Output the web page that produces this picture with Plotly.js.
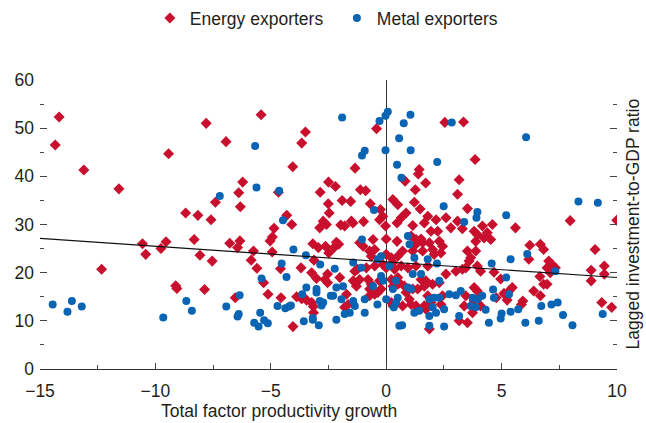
<!DOCTYPE html>
<html>
<head>
<meta charset="utf-8">
<script src="https://cdn.plot.ly/plotly-3.0.1.min.js"></script>
<style>
  html, body { margin: 0; padding: 0; background: #fff; }
  #chart { width: 646px; height: 423px; }
</style>
</head>
<body>
<div id="chart"></div>
<script>
// Energy exporters: TFP growth (x) vs lagged investment-to-GDP ratio (y)
const energyX = [
  -14.17, -14.34, -13.1, -11.58, -9.43, -7.8, -8.69, -8.16, -7.59, -7.4,
  -12.33, -10.56, -10.42, -9.76, -9.54, -9.12, -9.07, -8.32, -8.07, -7.87, -7.54,
  -5.42, -6.94, -3.5, -3.66, -4.05, -6.22, -6.39, -6.32, -4.67, -2.86, -2.5, -4.31, -4.09, -4.86,
  -2.51, -2.47, -2.73, -2.59, -2.88,
  -4.93, -5.03, -6.34, -6.78, -6.44, -5.75, -5.85, -4.94, -4.58, -5.6, -5.31, -5.12, -6.54, -4.56,
  -4.04, -3.88, -3.66, -3.45, -3.23, -3.16, -3.15, -3.69, -3.18, -3.13, -3.23, -3.02, -2.54, -2.54,
  -2.94, -2.63, -2.49,
  -0.42, 2.54, 3.35, 3.85, -1.35, 1.43, 1.39, 0.82, 1.71, 3.16, 1.26, -2.2, -1.12, -0.89, 3.09,
  -1.91, -1.54, -0.69, -0.25, -0.15, -0.29, 0.29, 0.5, -1.97, -1.8, -1.51, -1.44, -0.98, -0.03, 0.47,
  0.0, 0.47, -0.57, -1.15, -1.0, -2.16, -2.06, -2.26, -0.72, -0.5, -0.65, 0.0, 0.22, 0.5,
  -2.66, -2.01, -1.36, -1.25, -0.86, -0.5, -0.14, 0.0, 0.29, 0.36, -1.43, -1.29, -1.15, -0.79, -0.65,
  -0.72, -0.29, -0.22, -0.36, 0.22, 0.29, 0.5, -0.72, -0.5, -1.72, -1.65, -1.8, 0.22, 0.29,
  1.22, 1.47, 3.52, 0.86, 0.65, 1.8, 1.65, 2.16, 2.59, 3.09, 1.15, 1.94, 2.23, 2.8, 3.3, 3.81, 3.95,
  1.08, 1.29, 1.51, 1.29, 1.58, 1.87, 2.3, 2.44, 3.88, 0.71, 1.15, 1.58, 2.01, 2.37, 2.08, 3.52, 3.66, 3.59,
  0.65, 0.94, 1.29, 1.8, 3.02, 3.3, 3.45, 3.95, 4.09, 2.59, 0.5, 0.57, 0.79, 1.51, 1.72, 1.65, 2.01, 2.3,
  1.15, 1.36, 0.86, 1.0, 1.08, 1.29, 1.8, 1.65, 1.72, 2.44, 2.37, 0.71, 3.81, 3.95, 4.09, 3.45, 3.38,
  3.81, 3.74, 3.16, 3.52, 1.87, 1.94,
  7.97, 9.99, 4.17, 4.6, 5.6,
  4.38, 4.24, 4.53, 3.88, 6.22, 6.68, 6.82, 6.18, 7.04, 7.18, 6.97, 7.33, 7.11, 9.05, 9.45, 9.45,
  8.88, 8.88, 4.67, 4.96, 6.66, 6.82, 6.97, 6.39, 6.68, 5.46, 5.32, 5.1, 5.17, 4.77, 5.24, 4.09,
  5.92, 5.86, 9.34, 9.77
];
const energyY = [
  52.3, 46.5, 41.3, 37.4, 44.7, 51.0, 32.4, 31.9, 31.0, 34.6,
  20.7, 26.0, 23.8, 25.0, 26.4, 17.3, 16.7, 26.9, 23.6, 16.5, 22.4,
  52.8, 47.2, 49.2, 46.9, 42.0, 38.8, 36.6, 33.7, 36.7, 36.7, 38.8, 31.9, 30.0, 29.2,
  34.3, 32.4, 30.7, 30.0, 29.3,
  27.4, 26.6, 26.6, 26.1, 25.2, 24.5, 22.6, 24.3, 20.8, 20.9, 17.9, 15.5, 14.8, 14.8,
  8.8, 15.0, 14.6, 14.3, 13.8, 13.0, 11.7, 21.0, 26.0, 22.6, 20.0, 18.8, 19.7, 17.9,
  25.2, 25.5, 24.1,
  49.9, 51.2, 51.3, 43.5, 41.7, 41.4, 40.5, 39.0, 38.6, 39.3, 37.2, 37.9, 37.2, 37.0, 36.3,
  35.0, 34.8, 34.3, 33.1, 31.7, 31.0, 35.2, 34.1, 29.9, 29.7, 30.7, 30.3, 30.6, 29.7, 30.3,
  27.0, 26.5, 26.9, 26.2, 25.5, 26.3, 25.9, 25.2, 24.5, 24.8, 23.4, 23.8, 23.1, 23.4,
  18.6, 19.0, 20.3, 20.7, 21.0, 21.4, 21.7, 21.0, 22.1, 20.7, 18.3, 17.2, 18.6, 18.6, 17.6,
  16.6, 18.3, 16.6, 15.9, 18.6, 17.2, 17.6, 15.2, 15.5, 15.5, 13.4, 12.8, 13.8, 13.1,
  34.6, 33.2, 33.3, 32.4, 31.4, 31.7, 30.3, 31.0, 31.4, 30.7, 29.8, 28.6, 28.6, 29.3, 29.1, 28.6, 27.9,
  27.6, 26.9, 27.0, 25.9, 26.2, 26.2, 26.5, 25.5, 26.5, 24.5, 24.5, 24.5, 24.8, 24.1, 23.8, 24.5, 23.1, 22.4,
  21.4, 21.0, 21.4, 21.4, 20.3, 20.7, 21.0, 21.4, 20.3, 19.7, 19.0, 17.9, 17.2, 18.6, 18.3, 17.2, 17.6, 17.9,
  16.6, 16.6, 15.9, 14.5, 13.4, 13.1, 15.2, 13.1, 12.4, 15.2, 13.4, 13.1, 16.9, 16.2, 15.2, 15.2, 13.1,
  14.1, 11.7, 10.0, 9.6, 8.3, 13.8,
  30.8, 30.9, 29.7, 30.0, 29.3,
  28.3, 27.2, 26.9, 24.5, 25.7, 25.9, 24.8, 22.8, 22.4, 21.7, 21.0, 21.0, 20.0, 24.8, 21.4, 19.7,
  20.5, 18.3, 20.1, 18.7, 19.2, 17.6, 17.6, 16.2, 15.2, 16.9, 16.2, 15.7, 15.3, 14.8, 14.3, 13.1,
  14.1, 13.4, 13.8, 12.8
];

// Metal exporters
const metalX = [
  -14.45, -13.81, -13.62, -13.19, -9.66, -8.66, -8.42,
  -5.68, -5.62, -7.21, -4.64, -4.47,
  -4.02, -4.53, -4.32, -5.4, -6.35, -6.93, -6.39, -6.44, -5.46, -5.72, -5.53, -5.29, -5.13, -4.71,
  -4.37, -4.21, -4.13, -3.57, -3.18, -2.92, -3.64, -3.46, -3.02, -3.02, -3.18, -2.88, -2.8, -2.73,
  -3.48, -2.86, -2.4,
  -1.91, 0.07, -0.03, -0.29, 1.05, 0.76, 2.84, 0.56, -0.93, -1.05, -0.03, 1.06, 2.21, 0.47, 0.66,
  -0.53, -1.05, -2.23, -1.43, -1.08, -0.22, -0.36, 0.14, -2.16, -1.87, -2.3, -1.94, -1.43, -1.36,
  -0.93, -0.93, -0.22, -0.14, -0.38, 0.0, -0.57, 0.29, 0.5, -1.58, -1.8, -2.16, 0.57, 0.33,
  2.49, 3.95, 3.91, 3.38, 0.94, 1.01, 1.22, 1.8, 2.2, 1.15, 1.51, 2.3, 0.43, 0.94, 1.08, 0.43,
  1.87, 2.08, 2.3, 2.73, 3.02, 3.23, 3.74, 3.88, 3.66, 4.16, 1.43, 1.22, 2.01, 2.16, 1.87, 2.51,
  0.69, 1.87, 2.51, 3.16,
  6.06, 8.33, 9.17, 5.2,
  5.39, 6.11, 4.57, 7.33, 5.2, 4.63, 4.67, 5.32, 3.95, 4.31, 5.0, 4.96, 5.39, 5.72, 4.45, 6.03,
  6.61, 6.72, 7.16, 7.43, 7.66, 8.07, 9.38
];
const metalY = [
  13.4, 11.9, 14.1, 13.0, 10.7, 14.1, 12.1,
  46.3, 37.7, 35.9, 37.0, 30.9,
  24.8, 21.9, 19.1, 18.8, 15.3, 13.0, 11.4, 10.9, 11.7, 9.6, 8.8, 10.1, 9.5, 13.1,
  12.6, 13.0, 13.2, 9.9, 10.2, 9.1, 15.5, 16.9, 16.6, 15.9, 10.6, 14.1, 13.2, 13.8,
  23.6, 21.7, 15.2,
  52.2, 53.4, 52.6, 51.5, 52.8, 51.0, 51.2, 47.9, 45.3, 44.3, 45.4, 45.4, 43.0, 42.4, 39.7,
  33.0, 26.9, 20.8, 22.1, 21.0, 23.4, 22.8, 21.4, 16.9, 17.2, 15.2, 14.5, 14.1, 13.1,
  14.5, 11.7, 19.3, 18.3, 13.4, 14.5, 17.2, 16.6, 14.8, 11.7, 11.4, 10.2, 9.0, 12.8,
  33.8, 32.6, 31.4, 30.5, 27.6, 25.9, 23.1, 22.8, 21.9, 19.7, 19.7, 18.3, 18.3, 16.9, 16.6, 13.8,
  14.5, 14.8, 14.8, 15.5, 15.3, 16.2, 14.8, 12.8, 13.1, 15.2, 12.1, 11.7, 12.8, 11.7, 11.0, 12.4,
  9.1, 9.0, 8.8, 11.0,
  48.1, 34.8, 34.5, 31.9,
  22.8, 23.9, 21.9, 20.3, 19.0, 16.5, 14.8, 15.5, 14.5, 12.3, 11.5, 10.5, 11.9, 12.4, 9.6, 9.6,
  10.0, 13.1, 13.4, 13.8, 11.2, 9.1, 11.4
];

// fitted line at both ends of the axis
const fitX = [-15, 10];
const fitY = [27.1, 19.0];

const xTicks = [-15, -10, -5, 0, 5, 10];
const yTicks = [0, 10, 20, 30, 40, 50, 60];

const RED = '#c8102e';
const BLUE = '#0a64b4';
const TXT = '#231f20';
const FONT = '"Liberation Sans", Arial, sans-serif';
const FS = 17.5;

const energy = {
  x: energyX, y: energyY,
  type: 'scatter', mode: 'markers',
  name: 'Energy exporters',
  marker: { symbol: 'diamond', size: 8.5, color: RED },
  hoverinfo: 'x+y'
};

const metal = {
  x: metalX, y: metalY,
  type: 'scatter', mode: 'markers',
  name: 'Metal exporters',
  marker: { symbol: 'circle', size: 8, color: BLUE },
  hoverinfo: 'x+y'
};

const fit = {
  x: fitX, y: fitY,
  type: 'scatter', mode: 'lines',
  line: { color: '#111', width: 1.2 },
  hoverinfo: 'skip',
  showlegend: false
};

const layout = {
  width: 646,
  height: 423,
  margin: { l: 40, r: 29, t: 80, b: 54 },
  paper_bgcolor: '#fff',
  plot_bgcolor: '#fff',
  font: { family: FONT, size: FS, color: TXT },
  showlegend: true,
  legend: {
    orientation: 'h',
    xref: 'container', yref: 'container',
    x: 0.232, xanchor: 'left',
    y: 0.957, yanchor: 'middle',
    entrywidth: 142,
    font: { family: FONT, size: FS, color: TXT },
    tracegroupgap: 0
  },
  xaxis: {
    range: [-15, 10],
    tickvals: xTicks,
    ticks: 'inside', ticklen: 6, tickwidth: 1, tickcolor: '#444',
    minor: { dtick: 2.5, ticks: 'inside', ticklen: 4, tickcolor: '#444' },
    ticklabelstandoff: 6,
    showgrid: false,
    showline: true, linecolor: '#333', linewidth: 1,
    zeroline: true, zerolinecolor: '#333', zerolinewidth: 1.2,
    tickfont: { family: FONT, size: FS, color: TXT }
  },
  yaxis: {
    range: [0, 60],
    tickvals: yTicks,
    ticks: 'inside', ticklen: 7, tickwidth: 1, tickcolor: '#444',
    minor: { dtick: 5, ticks: 'inside', ticklen: 4, tickcolor: '#444' },
    mirror: 'ticks',
    ticklabelstandoff: 5,
    showline: false,
    showgrid: false,
    zeroline: false,
    tickfont: { family: FONT, size: FS, color: TXT }
  },
  annotations: [
    {
      text: 'Total factor productivity growth',
      xref: 'paper', yref: 'paper',
      x: 0.414, y: -0.145, xanchor: 'center', yanchor: 'middle',
      showarrow: false,
      font: { family: FONT, size: FS, color: TXT }
    },
    {
      text: 'Lagged investment-to-GDP ratio',
      xref: 'paper', yref: 'paper',
      x: 1.026, y: 0.5, xanchor: 'center', yanchor: 'middle',
      textangle: -90,
      showarrow: false,
      font: { family: FONT, size: FS, color: TXT }
    }
  ]
};

Plotly.newPlot('chart', [energy, metal, fit], layout, { displayModeBar: false, staticPlot: true });
</script>
</body>
</html>
